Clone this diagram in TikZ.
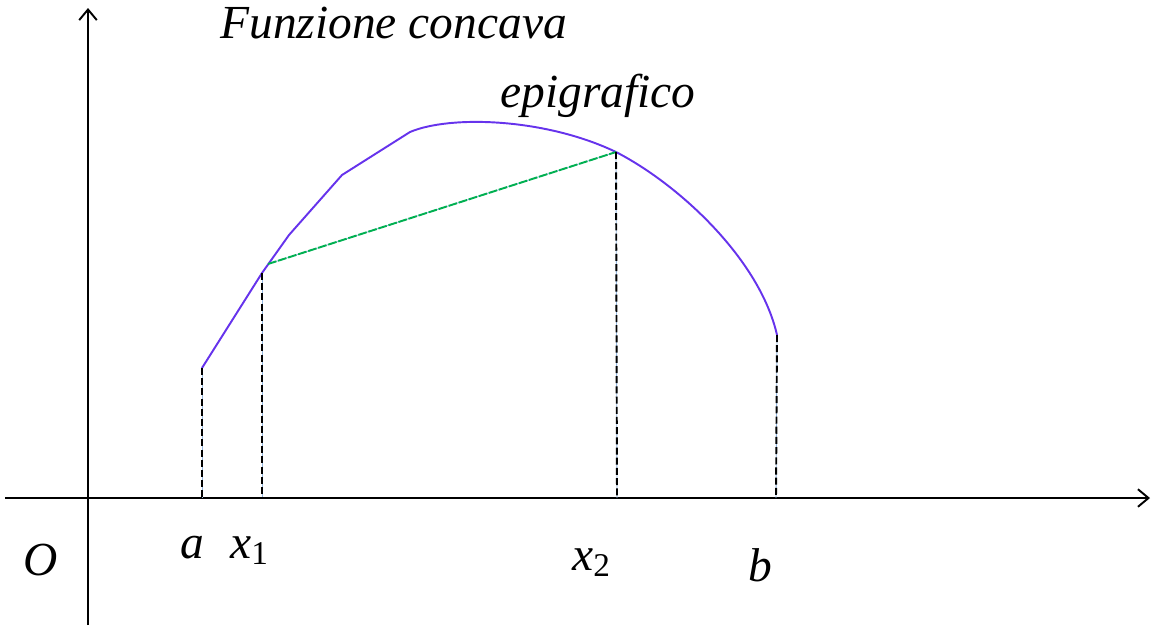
\documentclass[tikz,border=0pt]{standalone}
\usepackage{fontspec}
\setmainfont{Liberation Serif}
\usepackage{tikz}
\usetikzlibrary{arrows.meta}
\definecolor{curvecol}{RGB}{102,51,236}
\definecolor{chordcol}{RGB}{0,176,80}
\definecolor{guidecol}{RGB}{150,185,225}

\begin{document}
\begin{tikzpicture}[x=0.02cm, y=-0.02cm, font=\fontsize{27}{32}\selectfont\itshape,
  axis/.style={line width=1.1pt, -{Straight Barb[length=6pt,width=10pt,line width=1.1pt]}},
  curve/.style={draw=curvecol, line width=1.1pt},
  under/.style={draw=guidecol, line width=0.5pt},
  guide/.style={draw=black, line width=1.1pt, dash pattern=on 4pt off 1.8pt},
  chord/.style={draw=chordcol, line width=1.1pt, dash pattern=on 5pt off 1pt},
  lbl/.style={anchor=base west, inner sep=0pt}]
\useasboundingbox (0,0) rectangle (1153,630);
% axes
\coordinate (xs) at (5,498);   \coordinate (xe) at (1150,498);
\coordinate (ys) at (88,625);  \coordinate (ye) at (88,8);
\draw[axis] (xs) -- (xe);
\draw[axis] (ys) -- (ye);
% points on the curve and their feet
\coordinate (pa) at (202,368);  \coordinate (fa) at (202,498);
\coordinate (p1) at (262,273);  \coordinate (f1) at (262,498);
\coordinate (c1) at (268,264);
\coordinate (p2) at (616,152);  \coordinate (f2) at (617,498);
\coordinate (pb) at (777,335);  \coordinate (fb) at (776,498);
% the function
\draw[curve] (pa) -- (p1) -- (289,235) -- (342,175) -- (410,132)
  .. controls (450,115) and (545,118) .. (p2)
  .. controls (680,185) and (760,260) .. (pb);
% chord
\draw[under] (c1) -- (p2);
\draw[chord] (c1) -- (p2);
% dashed verticals
\foreach \p/\f in {pa/fa, p1/f1, p2/f2, pb/fb} {
  \draw[under] (\p) -- (\f);
  \draw[guide] (\p) -- (\f);
}
% labels
\node[lbl] (tit) at (220,38)  {Funzione concava};
\node[lbl] (epi) at (500,107) {epigrafico};
\node[lbl] (o)   at (23,575)  {O};
\node[lbl] (la)  at (180,558) {a};
\node[lbl] (lx1) at (230,558) {x\textsubscript{\upshape 1}};
\node[lbl] (lx2) at (572,570) {x\textsubscript{\upshape 2}};
\node[lbl] (lb)  at (748,581) {b};
\end{tikzpicture}
\end{document}
